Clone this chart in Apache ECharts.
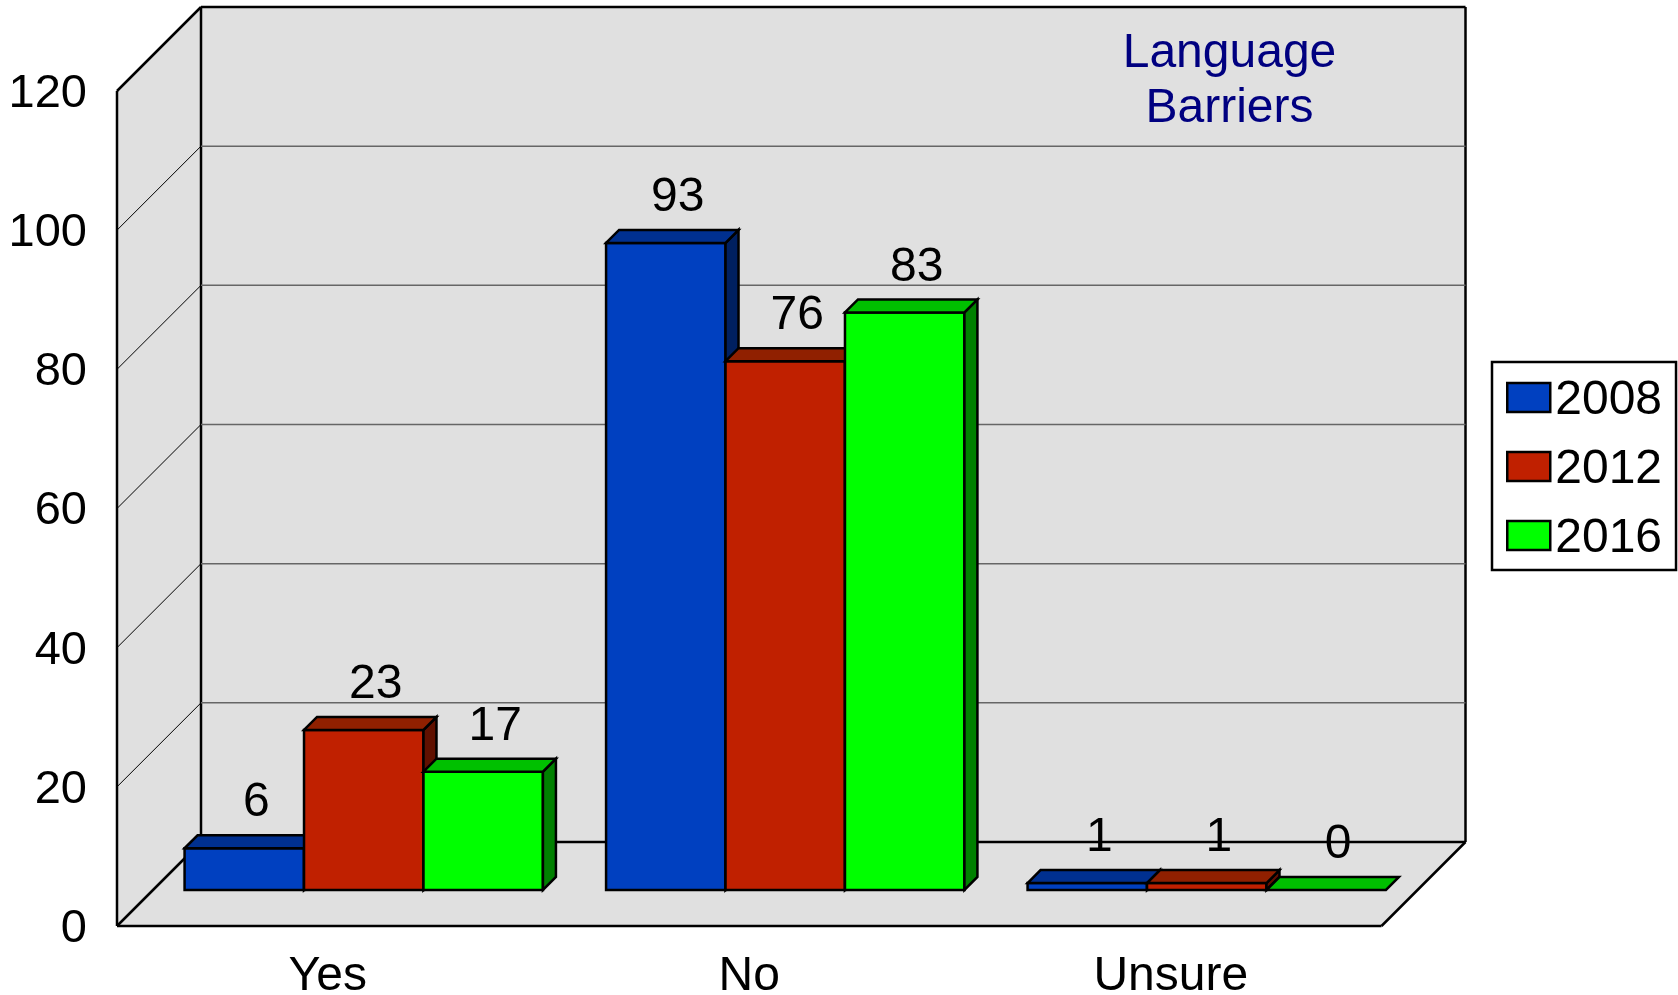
<!DOCTYPE html>
<html>
<head>
<meta charset="utf-8">
<style>html,body{margin:0;padding:0;background:#fff}#c{width:1678px;height:995px}</style>
<script src="https://cdn.jsdelivr.net/npm/echarts@6/dist/echarts.min.js"></script>
</head>
<body>
<div id="c"></div>
<script>
const categories = ['Yes', 'No', 'Unsure'];
const years = ['2008', '2012', '2016'];
const values2008 = [6, 93, 1];
const values2012 = [23, 76, 1];
const values2016 = [17, 83, 0];
const tickValues = [0, 20, 40, 60, 80, 100, 120];
const titleLines = 'Language\nBarriers';

const frontColors = ['#0040C0', '#C02000', '#00FF00'];
const topColors = ['#003090', '#902000', '#00C000'];
const sideColors = ['#002060', '#601000', '#008000'];

const FONT = '"Liberation Sans", Arial, sans-serif';
const WALL_DEPTH = 84, BAR_SHIFT = 36, BAR_DEPTH = 13, BAR_RATIO = 119.5 / 421.67;
const WALL = '#E0E0E0';

function poly(points, fill, width) {
  return { type: 'polygon', shape: { points }, style: { fill, stroke: '#000', lineWidth: width, lineJoin: 'miter' } };
}
function seg(x1, y1, x2, y2, color, width) {
  return { type: 'line', shape: { x1, y1, x2, y2 }, style: { stroke: color, lineWidth: width, fill: null } };
}

function renderWalls(params, api) {
  const cs = params.coordSys, d = WALL_DEPTH;
  const l = cs.x, r = cs.x + cs.width, t = cs.y, b = cs.y + cs.height;
  return { type: 'group', children: [
    { type: 'polygon', shape: { points: [[l + d, t - d], [r + d, t - d], [r + d, b - d], [l + d, b - d]] }, style: { fill: WALL } },
    { type: 'polygon', shape: { points: [[l, t], [l + d, t - d], [l + d, b - d], [l, b]] }, style: { fill: WALL } },
    { type: 'polygon', shape: { points: [[l, b], [l + d, b - d], [r + d, b - d], [r, b]] }, style: { fill: WALL } },
    seg(l, t, l + d, t - d, '#000', 2.5),
    seg(l, t, l, b, '#000', 2.5),
    seg(l, b, r, b, '#000', 2.5),
    seg(r, b, r + d, b - d, '#000', 2.5),
    seg(l, b, l + d, b - d, '#000', 2.5),
    seg(l + d, t - d, l + d, b - d, '#000', 2.5),
    seg(l + d, t - d, r + d, t - d, '#000', 2.5),
    seg(r + d, t - d, r + d, b - d, '#000', 2.5),
    seg(l + d, b - d, r + d, b - d, '#000', 2.5)
  ]};
}

function renderTick(params, api) {
  const cs = params.coordSys, d = WALL_DEPTH;
  const y = api.coord([0, api.value(1)])[1];
  return { type: 'group', children: [
    seg(cs.x, y, cs.x + d, y - d, '#000', 1),
    seg(cs.x + d, y - d, cs.x + cs.width + d, y - d, '#666', 1.5)
  ]};
}

function renderTitle(params, api) {
  const cs = params.coordSys;
  return {
    type: 'text',
    style: {
      x: cs.x + cs.width - 152, y: api.coord([0, 120])[1] - 10,
      text: titleLines, fill: '#000080', font: '48px ' + FONT,
      align: 'center', verticalAlign: 'middle', lineHeight: 55
    }
  };
}

function barRenderer(s) {
  return function (params, api) {
    const v = api.value(1);
    const base = api.coord([api.value(0), 0]);
    const tip = api.coord([api.value(0), v]);
    const w = api.size([1, 0])[0] * BAR_RATIO;
    const x0 = base[0] + (s - 1.5) * w + BAR_SHIFT, x1 = x0 + w;
    const yb = base[1] - BAR_SHIFT, yt = tip[1] - BAR_SHIFT;
    const p = BAR_DEPTH;
    const children = [];
    if (v > 0) {
      children.push(poly([[x0, yt], [x1, yt], [x1, yb], [x0, yb]], frontColors[s], 2.5));
      children.push(poly([[x1, yt], [x1 + p, yt - p], [x1 + p, yb - p], [x1, yb]], sideColors[s], 2.5));
    }
    children.push(poly([[x0, yt], [x0 + p, yt - p], [x1 + p, yt - p], [x1, yt]], topColors[s], 2.5));
    children.push({
      type: 'text', z2: 100,
      style: {
        x: (x0 + x1) / 2 + p - 1, y: yt - 45, text: String(v), fill: '#000',
        font: '48px ' + FONT, align: 'center', verticalAlign: 'middle'
      }
    });
    return { type: 'group', children };
  };
}

const yearValues = [values2008, values2012, values2016];

const option = {
  animation: false,
  backgroundColor: '#fff',
  textStyle: { fontFamily: FONT },
  grid: { left: 117, right: 296.5, top: 91, bottom: 69, containLabel: false, outerBoundsMode: 'none' },
  xAxis: {
    type: 'category', data: categories,
    axisLine: { show: false }, axisTick: { show: false }, splitLine: { show: false },
    axisLabel: { fontSize: 48, color: '#000', fontFamily: FONT, margin: 27 }
  },
  yAxis: {
    type: 'value', min: 0, max: 120, interval: 20,
    axisLine: { show: false }, axisTick: { show: false }, splitLine: { show: false },
    axisLabel: {
      color: '#000', margin: 30, formatter: '{t|{value}}',
      rich: { t: { fontSize: 47, color: '#000', fontFamily: FONT, padding: [6, 0, 0, 0] } }
    }
  },
  legend: {
    left: 1492, top: 362, orient: 'vertical', icon: 'rect',
    data: years, itemWidth: 43, itemHeight: 29, itemGap: 21,
    padding: [15, 14, 7, 14],
    backgroundColor: '#fff', borderColor: '#000', borderWidth: 2.5,
    itemStyle: { borderColor: '#000', borderWidth: 2.5 },
    formatter: '{t|{name}}',
    textStyle: {
      color: '#000',
      rich: { t: { fontSize: 48, color: '#000', fontFamily: FONT, padding: [7, 0, 0, 0] } }
    },
    selectedMode: false
  },
  series: [
    { type: 'custom', z: 1, silent: true, renderItem: renderWalls, data: [[0, 0]], encode: { x: 0, y: 1 } },
    { type: 'custom', z: 2, silent: true, renderItem: renderTick, data: tickValues.slice(1, -1).map(t => [0, t]), encode: { x: 0, y: 1 } },
    { type: 'custom', z: 3, silent: true, renderItem: renderTitle, data: [[0, 120]], encode: { x: 0, y: 1 } }
  ].concat(years.map((name, s) => ({
    type: 'custom', name, z: 4 + s, silent: true,
    itemStyle: { color: frontColors[s] },
    renderItem: barRenderer(s),
    encode: { x: 0, y: 1 },
    data: yearValues[s].map((v, i) => [i, v])
  })))
};

echarts.init(document.getElementById('c')).setOption(option);
</script>
</body>
</html>
